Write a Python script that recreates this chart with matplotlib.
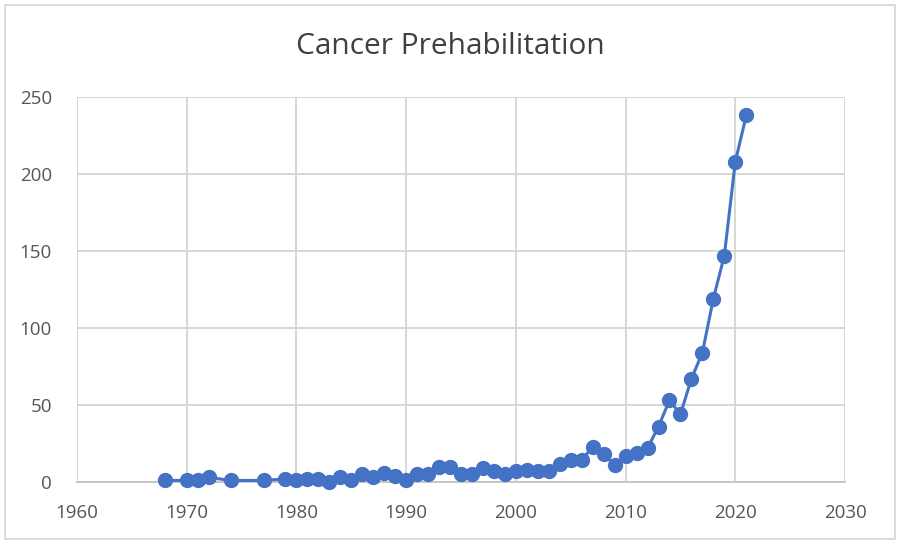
import matplotlib
matplotlib.use("Agg")
import matplotlib.pyplot as plt
from matplotlib.patches import Rectangle

# Datos (publicaciones por año)
years = [1968, 1970, 1971, 1972, 1974, 1977, 1979, 1980, 1981, 1982,
         1983, 1984, 1985, 1986, 1987, 1988, 1989, 1990, 1991, 1992,
         1993, 1994, 1995, 1996, 1997, 1998, 1999, 2000, 2001, 2002,
         2003, 2004, 2005, 2006, 2007, 2008, 2009, 2010, 2011, 2012,
         2013, 2014, 2015, 2016, 2017, 2018, 2019, 2020, 2021]
counts = [1, 1, 1, 3, 1, 1, 2, 1, 2, 2,
          0, 3, 1, 5, 3, 6, 4, 1, 5, 5,
          10, 10, 5, 5, 9, 7, 5, 7, 8, 7,
          7, 12, 14, 14, 23, 18, 11, 17, 19, 22,
          36, 53, 44, 67, 84, 119, 147, 208, 238]

x_ticks = [1960, 1970, 1980, 1990, 2000, 2010, 2020, 2030]
y_ticks = [0, 50, 100, 150, 200, 250]
titulo = "Cancer Prehabilitation"

plt.rcParams['font.family'] = ['Open Sans', 'DejaVu Sans']

gris_texto = '#555555'
gris_titulo = '#404040'
gris_rejilla = '#d4d4d4'
azul = '#4472C4'

fig = plt.figure(figsize=(9, 5.44), dpi=100)
ax = fig.add_axes([0.0856, 0.114, 0.8533, 0.7077])

# Borde exterior del grafico
fig.patches.append(Rectangle((0.006, 0.009), 0.988, 0.982, transform=fig.transFigure,
                             fill=False, edgecolor=gris_rejilla, linewidth=1.2))

ax.plot(years, counts, color=azul, linewidth=2.2, marker='o', markersize=10,
        markerfacecolor=azul, markeredgecolor=azul, zorder=3, clip_on=False)

ax.set_xlim(1960, 2030)
ax.set_ylim(0, 250)
ax.set_xticks(x_ticks)
ax.set_yticks(y_ticks)
ax.grid(True, color=gris_rejilla, linewidth=1.3)
ax.set_axisbelow(True)

for lado in ['top', 'right', 'left']:
    ax.spines[lado].set_visible(False)
ax.spines['bottom'].set_color('#c4c4c4')
ax.spines['bottom'].set_linewidth(1.3)

ax.tick_params(axis='both', length=0, labelsize=13.5, labelcolor=gris_texto)
ax.tick_params(axis='x', pad=16)
ax.tick_params(axis='y', pad=18)

fig.text(0.5, 0.915, titulo, ha='center', va='center', fontsize=21.5, color=gris_titulo)

fig.savefig("out.png", dpi=100)
